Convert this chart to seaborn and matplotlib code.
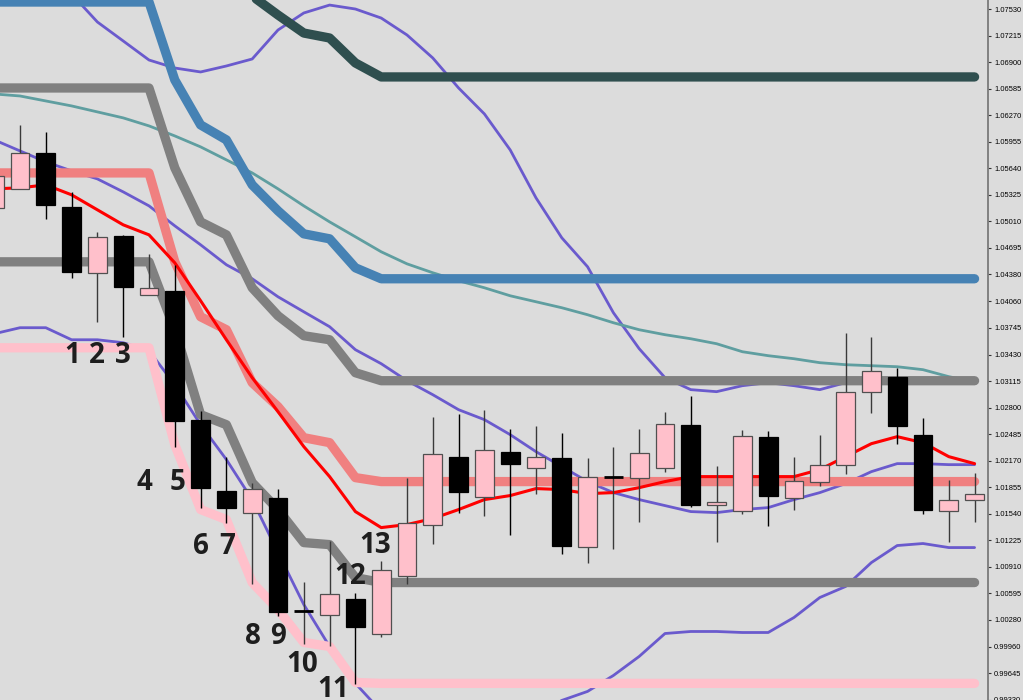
import matplotlib
matplotlib.use("Agg")
import matplotlib.pyplot as plt
import seaborn as sns
import pandas as pd

# ---------------- data ----------------
bars = list(range(-1, 38))

opens = [1.05171, 1.05396, 1.05823, 1.05182, 1.04400, 1.04839, 1.04139, 1.04186, 1.02657, 1.01815,
         1.01554, 1.01732, 1.00380, 1.00333, 1.00534, 1.00119, 1.00807, 1.01412, 1.02218, 1.01744,
         1.02277, 1.02088, 1.02206, 1.01151, 1.01969, 1.01969, 1.02088, 1.02598, 1.01649, 1.01578,
         1.02455, 1.01732, 1.01922, 1.02123, 1.02989, 1.03167, 1.02479, 1.01578, 1.01708]
highs = [1.05621, 1.06155, 1.06072, 1.05360, 1.04886, 1.04850, 1.04625, 1.04495, 1.02764, 1.02218,
         1.01910, 1.01839, 1.00736, 1.01222, 1.00594, 1.00985, 1.01969, 1.02692, 1.02728, 1.02775,
         1.02550, 1.02586, 1.02503, 1.02206, 1.02337, 1.02550, 1.02752, 1.02941, 1.02111, 1.02538,
         1.02526, 1.02218, 1.02479, 1.03688, 1.03641, 1.03273, 1.02681, 1.01945, 1.02028]
lows = [1.05123, 1.05396, 1.05040, 1.04341, 1.03819, 1.03641, 1.04139, 1.02337, 1.01613, 1.01436,
        1.00712, 1.00321, 0.99989, 0.99965, 0.99515, 1.00072, 1.00712, 1.01187, 1.01554, 1.01519,
        1.01293, 1.01779, 1.01068, 1.00961, 1.01127, 1.01447, 1.02040, 1.01625, 1.01210, 1.01542,
        1.01400, 1.01590, 1.01874, 1.02017, 1.02740, 1.02372, 1.01542, 1.01210, 1.01447]
closes = [1.05550, 1.05823, 1.05206, 1.04412, 1.04827, 1.04234, 1.04222, 1.02645, 1.01851, 1.01613,
          1.01839, 1.00380, 1.00384, 1.00582, 1.00202, 1.00878, 1.01436, 1.02254, 1.01803, 1.02301,
          1.02135, 1.02218, 1.01163, 1.01981, 1.01973, 1.02266, 1.02609, 1.01649, 1.01685, 1.02467,
          1.01756, 1.01933, 1.02123, 1.02989, 1.03238, 1.02586, 1.01590, 1.01708, 1.01779]

slate_line = [1.08100, 1.08100, 1.08100, 1.08100, 1.08100, 1.08100, 1.08100, 1.08100, 1.08100, 1.07957,
              1.07684, 1.07459, 1.07245, 1.07186, 1.06890, 1.06724, 1.06724, 1.06724, 1.06724, 1.06724,
              1.06724, 1.06724, 1.06724, 1.06724, 1.06724, 1.06724, 1.06724, 1.06724, 1.06724, 1.06724,
              1.06724, 1.06724, 1.06724, 1.06724, 1.06724, 1.06724, 1.06724, 1.06724, 1.06724]
blue_line = [1.07613, 1.07613, 1.07613, 1.07613, 1.07613, 1.07613, 1.07613, 1.06688, 1.06155, 1.05977,
             1.05443, 1.05135, 1.04862, 1.04803, 1.04459, 1.04329, 1.04329, 1.04329, 1.04329, 1.04329,
             1.04329, 1.04329, 1.04329, 1.04329, 1.04329, 1.04329, 1.04329, 1.04329, 1.04329, 1.04329,
             1.04329, 1.04329, 1.04329, 1.04329, 1.04329, 1.04329, 1.04329, 1.04329, 1.04329]
gray_upper = [1.06593, 1.06593, 1.06593, 1.06593, 1.06593, 1.06593, 1.06593, 1.05645, 1.05004, 1.04850,
              1.04222, 1.03890, 1.03653, 1.03605, 1.03214, 1.03119, 1.03119, 1.03119, 1.03119, 1.03119,
              1.03119, 1.03119, 1.03119, 1.03119, 1.03119, 1.03119, 1.03119, 1.03119, 1.03119, 1.03119,
              1.03119, 1.03119, 1.03119, 1.03119, 1.03119, 1.03119, 1.03119, 1.03119, 1.03119]
gray_lower = [1.04530, 1.04530, 1.04530, 1.04530, 1.04530, 1.04530, 1.04530, 1.03724, 1.02716, 1.02597,
              1.01910, 1.01590, 1.01198, 1.01174, 1.00783, 1.00724, 1.00724, 1.00724, 1.00724, 1.00724,
              1.00724, 1.00724, 1.00724, 1.00724, 1.00724, 1.00724, 1.00724, 1.00724, 1.00724, 1.00724,
              1.00724, 1.00724, 1.00724, 1.00724, 1.00724, 1.00724, 1.00724, 1.00724, 1.00724]
salmon_line = [1.05585, 1.05585, 1.05585, 1.05585, 1.05585, 1.05585, 1.05585, 1.04530, 1.03878, 1.03724,
               1.03096, 1.02811, 1.02443, 1.02384, 1.01969, 1.01922, 1.01922, 1.01922, 1.01922, 1.01922,
               1.01922, 1.01922, 1.01922, 1.01922, 1.01922, 1.01922, 1.01922, 1.01922, 1.01922, 1.01922,
               1.01922, 1.01922, 1.01922, 1.01922, 1.01922, 1.01922, 1.01922, 1.01922, 1.01922]
pink_line = [1.03510, 1.03510, 1.03510, 1.03510, 1.03510, 1.03510, 1.03510, 1.02360, 1.01590, 1.01471,
             1.00724, 1.00404, 1.00013, 0.99965, 0.99538, 0.99527, 0.99527, 0.99527, 0.99527, 0.99527,
             0.99527, 0.99527, 0.99527, 0.99527, 0.99527, 0.99527, 0.99527, 0.99527, 0.99527, 0.99527,
             0.99527, 0.99527, 0.99527, 0.99527, 0.99527, 0.99527, 0.99527, 0.99527, 0.99527]
red_line = [1.05396, 1.05408, 1.05443, 1.05325, 1.05147, 1.04969, 1.04850, 1.04518, 1.04068, 1.03605,
            1.03155, 1.02752, 1.02337, 1.01981, 1.01566, 1.01376, 1.01412, 1.01483, 1.01590, 1.01708,
            1.01756, 1.01839, 1.01827, 1.01779, 1.01791, 1.01850, 1.01922, 1.01981, 1.01981, 1.01981,
            1.01981, 1.01981, 1.02064, 1.02218, 1.02372, 1.02455, 1.02384, 1.02218, 1.02135]
teal_line = [1.06522, 1.06498, 1.06439, 1.06380, 1.06309, 1.06238, 1.06143, 1.06024, 1.05894, 1.05740,
             1.05585, 1.05396, 1.05194, 1.05004, 1.04827, 1.04649, 1.04506, 1.04400, 1.04305, 1.04222,
             1.04127, 1.04056, 1.03985, 1.03902, 1.03807, 1.03724, 1.03665, 1.03617, 1.03558, 1.03463,
             1.03416, 1.03380, 1.03333, 1.03309, 1.03297, 1.03285, 1.03250, 1.03167, 1.03107]
band_upper = [1.08348, 1.08170, 1.08064, 1.07708, 1.07376, 1.07151, 1.06925, 1.06830, 1.06783, 1.06854,
              1.06937, 1.07281, 1.07483, 1.07577, 1.07530, 1.07423, 1.07222, 1.06949, 1.06593, 1.06285,
              1.05858, 1.05289, 1.04815, 1.04471, 1.03926, 1.03499, 1.03155, 1.03013, 1.02989, 1.03060,
              1.03096, 1.03060, 1.03013, 1.03096, 1.03119, 1.03131, 1.03131, 1.03131, 1.03131]
band_mid = [1.05977, 1.05846, 1.05716, 1.05609, 1.05514, 1.05360, 1.05194, 1.04957, 1.04732, 1.04495,
            1.04329, 1.04115, 1.03937, 1.03760, 1.03487, 1.03321, 1.03119, 1.02953, 1.02775, 1.02657,
            1.02479, 1.02277, 1.02100, 1.01922, 1.01791, 1.01708, 1.01637, 1.01566, 1.01554, 1.01590,
            1.01613, 1.01708, 1.01791, 1.01898, 1.02040, 1.02135, 1.02135, 1.02123, 1.02123]
band_lower = [1.03676, 1.03748, 1.03748, 1.03605, 1.03605, 1.03570, 1.03475, 1.03072, 1.02597, 1.02183,
              1.01708, 1.01080, 1.00463, 0.99965, 0.99527, 0.99195, 0.99040, 0.98946, 0.98886, 0.98886,
              0.98981, 0.99159, 0.99325, 0.99432, 0.99621, 0.99847, 1.00119, 1.00143, 1.00143, 1.00131,
              1.00131, 1.00309, 1.00546, 1.00677, 1.00961, 1.01163, 1.01187, 1.01139, 1.01139]

tick_labels = ["1.07530", "1.07215", "1.06900", "1.06585", "1.06270", "1.05955", "1.05640",
               "1.05325", "1.05010", "1.04695", "1.04380", "1.04060", "1.03745", "1.03430",
               "1.03115", "1.02800", "1.02485", "1.02170", "1.01855", "1.01540", "1.01225",
               "1.00910", "1.00595", "1.00280", "0.99960", "0.99645", "0.99330"]

label_texts = ["1", "2", "3", "4", "5", "6", "7", "8", "9", "10", "11", "12", "13"]
label_x = [2.02, 2.98, 3.99, 4.81, 6.09, 7.02, 8.02, 9.03, 10.0, 10.93, 12.13, 12.79, 13.76]
label_y = [1.03463, 1.03463, 1.03463, 1.01957, 1.01957, 1.01198, 1.01198, 1.00131, 1.00131,
           0.99787, 0.99491, 1.00843, 1.01210]

# ---------------- styling ----------------
BG = "#dcdcdc"
sns.set_theme(style="white")
plt.rcParams['font.family'] = ['Liberation Sans', 'DejaVu Sans']

fig = plt.figure(figsize=(10.23, 7.0), dpi=100, facecolor=BG)
ax = fig.add_axes([0, 0, 988 / 1023, 1])
ax.set_facecolor(BG)

series = {
    "band_upper": band_upper, "band_mid": band_mid, "band_lower": band_lower,
    "teal": teal_line, "slate": slate_line, "blue": blue_line,
    "gray_upper": gray_upper, "gray_lower": gray_lower, "salmon": salmon_line,
    "pink": pink_line, "red": red_line,
}
styles = {
    "band_upper": ("#6a5acd", 2.0, 2), "band_mid": ("#6a5acd", 2.0, 2),
    "band_lower": ("#6a5acd", 2.0, 2), "teal": ("#5f9ea0", 2.0, 2),
    "slate": ("#2f4f4f", 6.7, 3), "blue": ("#4682b4", 6.7, 3),
    "gray_upper": ("#808080", 6.7, 3), "gray_lower": ("#808080", 6.7, 3),
    "salmon": ("#f08080", 6.7, 3), "pink": ("#ffc0cb", 6.7, 3),
    "red": ("#ff0000", 2.2, 3.5),
}
for name, vals in series.items():
    color, lw, z = styles[name]
    df = pd.DataFrame({"bar": bars, "price": vals})
    sns.lineplot(data=df, x="bar", y="price", ax=ax, color=color, linewidth=lw,
                 legend=False, zorder=z, solid_capstyle="round", solid_joinstyle="round")

# candles
for x, o, h, l, c in zip(bars, opens, highs, lows, closes):
    bull = c >= o
    wick_col = "#3a3a3a" if bull else "#000000"
    ax.vlines(x, l, h, color=wick_col, linewidth=1.0, zorder=4)
    if abs(c - o) < 0.00008:
        ax.hlines((o + c) / 2, x - 0.37, x + 0.37, color="#000000", linewidth=2.0, zorder=5)
    else:
        ax.bar(x, abs(c - o), bottom=min(o, c), width=0.73,
               color="#ffc0cb" if bull else "#000000",
               edgecolor="#505050" if bull else "#000000",
               linewidth=0.9, zorder=5)

for t, x, y in zip(label_texts, label_x, label_y):
    ax.text(x, y, t, ha="center", va="center_baseline", fontsize=20, fontweight="bold",
            color="#1e1e1e", family=["Open Sans", "DejaVu Sans"], zorder=6)

ax.set_xlim(-0.775, 37.52)
ax.set_ylim(0.99337, 1.07637)
ax.set_xlabel("")
ax.set_ylabel("")
ax.set_xticks([])
ax.yaxis.tick_right()
ax.set_yticks([float(v) for v in tick_labels])
ax.set_yticklabels(tick_labels)
ax.tick_params(axis="y", which="both", right=True, left=False, length=2.5, width=0.8,
               color="#333333", pad=2, labelsize=5.4, labelcolor="#000000")
for s in ["top", "left", "bottom"]:
    ax.spines[s].set_visible(False)
ax.spines["right"].set_visible(True)
ax.spines["right"].set_color("#7a7a7a")
ax.spines["right"].set_linewidth(1.3)

fig.savefig("out.png", dpi=100, facecolor=BG)
